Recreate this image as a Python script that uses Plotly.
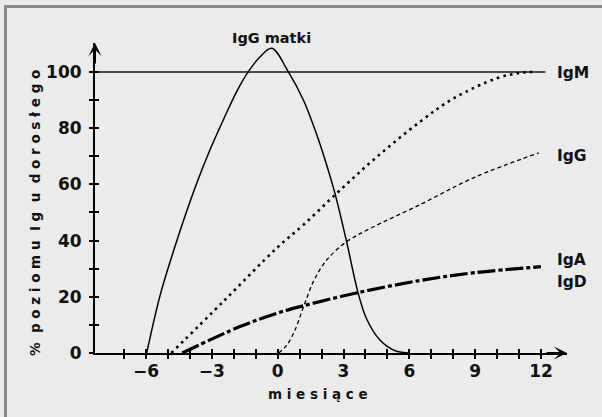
import plotly.graph_objects as go

W, H = 602, 417

# ---------------- data ----------------
MATERNAL_X = [-5.97, -5.36, -4.76, -4.30, -3.69, -3.09, -2.48, -1.87, -1.34, -0.81, -0.27,
              0.48, 1.17, 1.70, 2.16, 2.61, 3.14, 3.67, 4.06, 4.66, 5.3, 5.94]
MATERNAL_Y = [0, 20.5, 36.0, 47.0, 60.4, 72.2, 82.9, 93.0, 100.1, 105.3, 108.4,
              100.1, 90.0, 79.4, 68.7, 56.8, 39.6, 21.2, 12.0, 4.6, 1.0, 0]

IGM_X = [-4.85, -2.48, -0.05, 1.17, 2.69, 4.36, 6.49, 8.0, 10.0, 11.0, 11.6]
IGM_Y = [0, 18.3, 37.3, 45.6, 56.8, 68.7, 82.3, 90.5, 97.8, 99.6, 100]

IGG_X = [0.05, 0.4, 0.79, 1.17, 1.62, 2.0, 2.38, 3.14, 4.21, 6.49, 9.0, 11.9]
IGG_Y = [0, 2.6, 8.2, 16.3, 25.3, 30.6, 34.4, 39.6, 44.3, 52.8, 62.6, 71.2]

IGA_X = [-4.35, -1.72, 0.1, 1.17, 3.67, 6.49, 9.0, 12.0]
IGA_Y = [0, 9.4, 14.5, 16.8, 21.5, 25.8, 28.6, 30.7]

ADULT_LEVEL = 100
ADULT_LINE_END = 12.2

X_TICK_VALUES = [-7, -6, -5, -4, -3, -2, -1, 0, 1, 2, 3, 4, 5, 6, 7, 8, 9, 10, 11, 12]
X_TICK_TEXT = ["", "\u22126", "", "", "\u22123", "", "", "0", "", "", "3", "", "", "6",
               "", "", "9", "", "", "12"]
Y_TICK_VALUES = [0, 10, 20, 30, 40, 50, 60, 70, 80, 90, 100]
Y_TICK_TEXT = ["0", "", "20", "", "40", "", "60", "", "80", "", "100"]

X_RANGE = [-8.327, 13.186]
Y_RANGE = [0, 110.3]

FONT = "DejaVu Sans, Verdana, sans-serif"
BG = "#ebebeb"
INK = "#111111"

fig = go.Figure()

# reference line (adult level)
fig.add_trace(go.Scatter(x=[X_RANGE[0], ADULT_LINE_END], y=[ADULT_LEVEL, ADULT_LEVEL],
                         mode="lines", line=dict(color="#4a4a4a", width=2),
                         hoverinfo="skip", showlegend=False))

fig.add_trace(go.Scatter(x=MATERNAL_X, y=MATERNAL_Y, mode="lines",
                         line=dict(color="black", width=1.5, shape="spline", smoothing=1.0),
                         showlegend=False))
fig.add_trace(go.Scatter(x=IGM_X, y=IGM_Y, mode="lines",
                         line=dict(color="black", width=2.6, dash="2.6px,4.2px",
                                   shape="spline", smoothing=1.0),
                         showlegend=False))
fig.add_trace(go.Scatter(x=IGG_X, y=IGG_Y, mode="lines",
                         line=dict(color="black", width=1.3, dash="4px,3px",
                                   shape="spline", smoothing=1.0),
                         showlegend=False))
fig.add_trace(go.Scatter(x=IGA_X, y=IGA_Y, mode="lines",
                         line=dict(color="black", width=3.2, dash="18px,3px,4px,3px",
                                   shape="spline", smoothing=1.0),
                         showlegend=False))

tickfont = dict(family=FONT, size=17, color=INK, weight="bold")
xdom = [95 / W, 567 / W]
ydom = [(H - 353) / H, (H - 43) / H]

common = dict(showgrid=False, zeroline=False, automargin=False)
fig.update_layout(
    width=W, height=H,
    margin=dict(l=0, r=0, t=0, b=0, pad=0, autoexpand=False),
    paper_bgcolor=BG, plot_bgcolor=BG,
    xaxis=dict(domain=xdom, range=X_RANGE, **common,
               showline=True, linecolor="black", linewidth=2,
               ticks="outside", ticklen=4, tickwidth=2, tickcolor="black",
               tickmode="array", tickvals=X_TICK_VALUES, ticktext=X_TICK_TEXT,
               tickfont=tickfont, ticklabelstandoff=-2),
    xaxis2=dict(overlaying="x", anchor="y", side="bottom", range=X_RANGE, **common,
                showline=False,
                ticks="inside", ticklen=4, tickwidth=2, tickcolor="black",
                tickmode="array", tickvals=X_TICK_VALUES, showticklabels=False),
    yaxis=dict(domain=ydom, range=Y_RANGE, **common,
               showline=True, linecolor="black", linewidth=2,
               ticks="outside", ticklen=4, tickwidth=2, tickcolor="black",
               tickmode="array", tickvals=Y_TICK_VALUES, ticktext=Y_TICK_TEXT,
               tickfont=tickfont, ticklabelstandoff=4),
    yaxis2=dict(overlaying="y", anchor="x", side="left", range=Y_RANGE, **common,
                showline=False,
                ticks="inside", ticklen=4, tickwidth=2, tickcolor="black",
                tickmode="array", tickvals=Y_TICK_VALUES, showticklabels=False),
)
# dummy traces to activate overlay axes
fig.add_trace(go.Scatter(x=[None], y=[None], xaxis="x2", yaxis="y", showlegend=False))
fig.add_trace(go.Scatter(x=[None], y=[None], xaxis="x", yaxis="y2", showlegend=False))

labfont = dict(family=FONT, size=15.5, color=INK, weight="bold")
CURVE_LABELS = [("IgM", 12.62, 99.6),
                ("IgG", 12.62, 70.2),
                ("IgA", 12.62, 33.0),
                ("IgD", 12.62, 25.3)]
for txt, lx, ly in CURVE_LABELS:
    fig.add_annotation(x=lx, y=ly, xref="x", yref="y", text=txt, showarrow=False,
                       xanchor="left", yanchor="middle", font=labfont)
fig.add_annotation(x=271 / W, y=(H - 38) / H, xref="paper", yref="paper",
                   text="IgG matki", showarrow=False, xanchor="center", yanchor="middle",
                   font=dict(family=FONT, size=14.5, color=INK, weight="bold"))

# axis arrows
fig.add_annotation(x=X_RANGE[1], y=0, xref="x", yref="y", ax=-22, ay=0, text="",
                   showarrow=True, arrowhead=3, arrowsize=1.1, arrowwidth=2, arrowcolor="black")
fig.add_annotation(x=X_RANGE[0], y=Y_RANGE[1], xref="x", yref="y", ax=0, ay=22, text="",
                   showarrow=True, arrowhead=3, arrowsize=1.1, arrowwidth=2, arrowcolor="black")

titlefont = dict(family=FONT, size=13.5, color=INK, weight="bold")
fig.add_annotation(x=318 / W, y=(H - 394) / H, xref="paper", yref="paper",
                   text="m i e s i ą c e", showarrow=False, font=titlefont,
                   xanchor="center", yanchor="middle")
ytitle = "% \u00a0p o z i o m u \u00a0I g \u00a0u \u00a0d o r o s ł e g o"
fig.add_annotation(x=35 / W, y=(H - 213) / H, xref="paper", yref="paper",
                   text=ytitle, showarrow=False, font=titlefont, textangle=-90,
                   xanchor="center", yanchor="middle")

# frame (top and left edge)
fig.add_shape(type="rect", xref="paper", yref="paper", x0=4 / W, x1=7 / W,
              y0=0, y1=(H - 5) / H, fillcolor="#8a8a8a", line=dict(width=0))
fig.add_shape(type="rect", xref="paper", yref="paper", x0=4 / W, x1=1,
              y0=(H - 8) / H, y1=(H - 5) / H, fillcolor="#8a8a8a", line=dict(width=0))

fig.write_html("out.html", config={"displayModeBar": False},
               post_script="document.body.style.margin='0';document.body.style.padding='0';")
